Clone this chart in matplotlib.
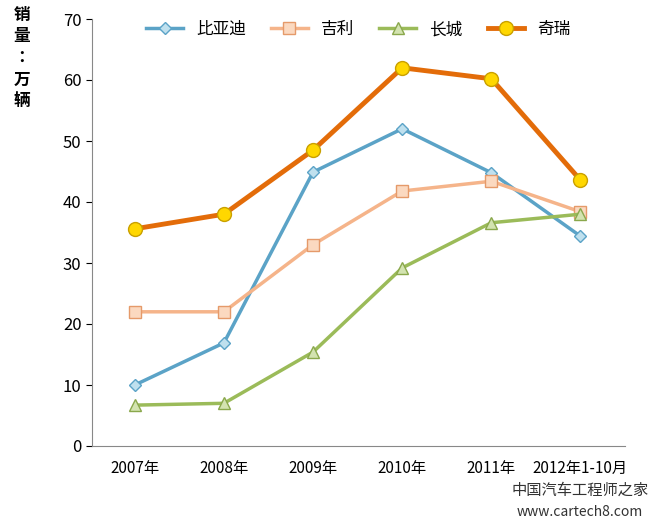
import matplotlib
matplotlib.use("Agg")
import matplotlib.pyplot as plt
from matplotlib import font_manager as fm
import glob

for p in glob.glob("/usr/share/fonts/**/*", recursive=True) + glob.glob("/usr/local/share/fonts/**/*", recursive=True):
    if "CJK" in p and p.lower().endswith((".ttc", ".otf", ".ttf")):
        try:
            fm.fontManager.addfont(p)
        except Exception:
            pass
names = sorted(set(f.name for f in fm.fontManager.ttflist if "Sans CJK" in f.name))
fam = "Noto Sans CJK SC" if "Noto Sans CJK SC" in names else (names[0] if names else "DejaVu Sans")
plt.rcParams["font.family"] = "sans-serif"
plt.rcParams["font.sans-serif"] = [fam, "DejaVu Sans"]

categories = ["2007年", "2008年", "2009年", "2010年", "2011年", "2012年1-10月"]
byd = [10.0, 16.9, 44.9, 52.0, 44.8, 34.4]
geely = [22.0, 22.0, 33.0, 41.8, 43.4, 38.4]
greatwall = [6.7, 7.0, 15.4, 29.2, 36.6, 38.0]
chery = [35.6, 38.0, 48.5, 62.0, 60.2, 43.6]
yticks = [0, 10, 20, 30, 40, 50, 60, 70]

fig = plt.figure(figsize=(6.55, 5.27), dpi=100)
ax = fig.add_axes([92/655, 1-446/527, 533/655, 427/527])
x = range(len(categories))
ax.plot(x, byd, color="#5ba3c7", lw=2.5, marker="D", ms=6, mfc="#bfe0ee", mec="#5ba3c7", label="比亚迪")
ax.plot(x, geely, color="#f5b48a", lw=2.5, marker="s", ms=8, mfc="#fbd9c0", mec="#e59a6a", label="吉利")
ax.plot(x, greatwall, color="#9bbb59", lw=2.5, marker="^", ms=8, mfc="#d3e3b0", mec="#8aa84c", label="长城")
ax.plot(x, chery, color="#e36c09", lw=3.5, marker="o", ms=10, mfc="#ffd700", mec="#c9a000", label="奇瑞")

ax.set_xlim(-0.48, 5.5)
ax.set_ylim(0, 70)
ax.set_yticks(yticks)
ax.set_xticks(list(x))
ax.set_xticklabels(categories, fontsize=11)
ax.tick_params(axis="y", labelsize=12, length=4)
ax.tick_params(axis="x", length=0, pad=10)
for s in ["top", "right"]:
    ax.spines[s].set_visible(False)
for s in ["left", "bottom"]:
    ax.spines[s].set_color("#888888")

ax.legend(loc="upper center", bbox_to_anchor=(0.5, 1.03), ncol=4, frameon=False,
          fontsize=12, handlelength=2.2, columnspacing=1.5)

fig.text(22/655, 1-58/527, "销\n量\n：\n万\n辆", fontsize=12, fontweight="bold",
         ha="center", va="center", linespacing=1.25)
fig.text(580/655, 1-490/527, "中国汽车工程师之家", fontsize=11, color="#333333", ha="center", va="center")
fig.text(580/655, 1-512/527, "www.cartech8.com", fontsize=10, color="#333333", ha="center", va="center")

fig.savefig("out.png", dpi=100)
